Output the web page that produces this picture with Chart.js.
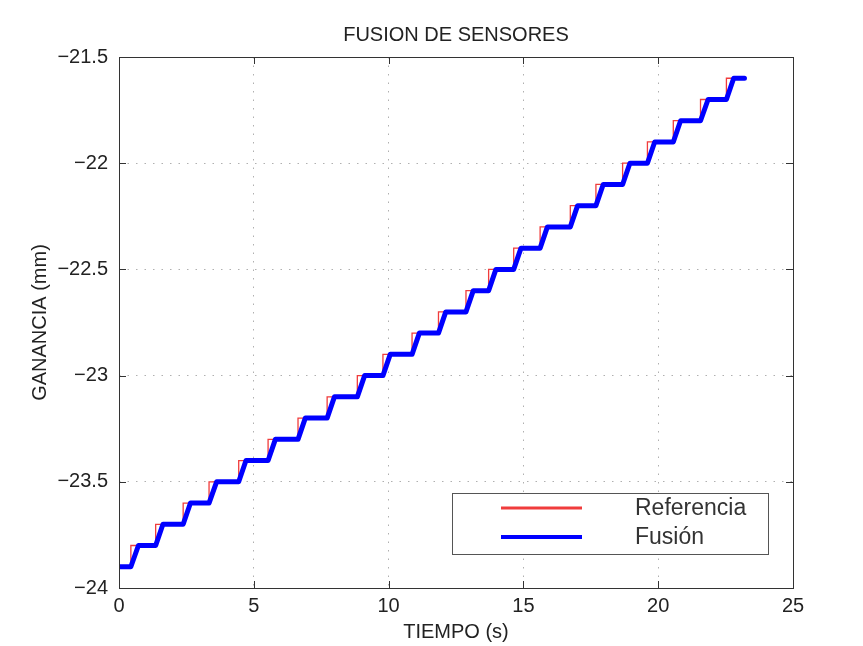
<!DOCTYPE html>
<html>
<head>
<meta charset="utf-8">
<script src="https://cdn.jsdelivr.net/npm/chart.js@4.4.1/dist/chart.umd.min.js"></script>
<style>
  body { margin: 0; background: #fff; }
</style>
</head>
<body>
<canvas id="myChart" width="863" height="646"></canvas>
<script>
// niveles de la referencia (mm)
const niveles = [-23.9, -23.8, -23.7, -23.6, -23.5, -23.4, -23.3, -23.2, -23.1, -23.0, -22.9, -22.8,
    -22.7, -22.6, -22.5, -22.4, -22.3, -22.2, -22.1, -22.0, -21.9, -21.8, -21.7, -21.6];
// instantes de cada escalon (s)
const tiemposEscalon = [0.44, 1.36, 2.38, 3.34, 4.44, 5.53, 6.64, 7.72, 8.84, 9.79, 10.87, 11.85,
    12.87, 13.71, 14.64, 15.62, 16.74, 17.69, 18.68, 19.60, 20.56, 21.57, 22.53];
// instantes en que la fusion alcanza el nuevo nivel (s)
const tiemposFusion = [0.72, 1.63, 2.65, 3.62, 4.71, 5.80, 6.91, 7.99, 9.11, 10.06, 11.14, 12.12,
    13.14, 13.98, 14.91, 15.89, 17.01, 17.96, 18.95, 19.87, 20.83, 21.85, 22.80];
const tFinal = 23.2;
const xTicks = [0, 5, 10, 15, 20, 25];
const yTicks = [-24, -23.5, -23, -22.5, -22, -21.5];
const titulo = 'FUSION DE SENSORES';

const FONT = '"Liberation Sans", Arial, Helvetica, sans-serif';
const menos = v => String(v).replace('-', '\u2212');

// referencia: escalones
const refData = [{ x: 0, y: niveles[0] }];
tiemposEscalon.forEach((t, i) => refData.push({ x: t, y: niveles[i + 1] }));
refData.push({ x: tFinal, y: niveles[niveles.length - 1] });

// fusion: rampa corta tras cada escalon
const fusData = [{ x: 0, y: niveles[0] }];
tiemposEscalon.forEach((t, i) => {
    fusData.push({ x: t, y: niveles[i] });
    fusData.push({ x: tiemposFusion[i], y: niveles[i + 1] });
});
fusData.push({ x: tFinal, y: niveles[niveles.length - 1] });

// marco, marcas interiores, titulo y leyenda al estilo matlab
const marcoMatlab = {
    id: 'marcoMatlab',
    afterDatasetsDraw(chart) {
        const { ctx, chartArea: a, scales } = chart;
        ctx.save();
        ctx.strokeStyle = '#333';
        ctx.lineWidth = 1;
        ctx.strokeRect(Math.round(a.left) + 0.5, Math.round(a.top) + 0.5,
            Math.round(a.right - a.left), Math.round(a.bottom - a.top));
        ctx.beginPath();
        xTicks.forEach(v => {
            const px = Math.round(scales.x.getPixelForValue(v)) + 0.5;
            ctx.moveTo(px, a.bottom); ctx.lineTo(px, a.bottom - 7);
            ctx.moveTo(px, a.top); ctx.lineTo(px, a.top + 7);
        });
        yTicks.forEach(v => {
            const py = Math.round(scales.y.getPixelForValue(v)) + 0.5;
            ctx.moveTo(a.left, py); ctx.lineTo(a.left + 7, py);
            ctx.moveTo(a.right, py); ctx.lineTo(a.right - 7, py);
        });
        ctx.stroke();

        // titulo centrado sobre el area del grafico
        ctx.fillStyle = '#222';
        ctx.font = '20px ' + FONT;
        ctx.textAlign = 'center';
        ctx.textBaseline = 'middle';
        ctx.fillText(titulo, (a.left + a.right) / 2, 35);

        // leyenda
        const lx = 452, ly = 493, lw = 316, lh = 61;
        ctx.fillStyle = '#fff';
        ctx.fillRect(lx, ly, lw, lh);
        ctx.strokeStyle = '#555';
        ctx.lineWidth = 1;
        ctx.strokeRect(lx + 0.5, ly + 0.5, lw, lh);
        ctx.font = '23px ' + FONT;
        ctx.textAlign = 'left';
        ctx.fillStyle = '#333';
        chart.data.datasets.forEach((ds, i) => {
            const y = ly + 15 + i * 29;
            ctx.strokeStyle = ds.borderColor;
            ctx.lineWidth = i === 0 ? 3 : 4;
            ctx.beginPath();
            ctx.moveTo(501, y); ctx.lineTo(582, y);
            ctx.stroke();
            ctx.fillText(ds.label, 635, y + 1);
        });
        ctx.restore();
    }
};

const ctx = document.getElementById('myChart');

new Chart(ctx, {
    type: 'line',
    data: {
        datasets: [{
            label: 'Referencia',
            data: refData,
            borderColor: 'rgb(240, 60, 60)',
            borderWidth: 1.3,
            stepped: true,
            pointRadius: 0,
            order: 2
        }, {
            label: 'Fusión',
            data: fusData,
            borderColor: '#0000ff',
            borderWidth: 5,
            borderCapStyle: 'round',
            borderJoinStyle: 'round',
            pointRadius: 0,
            tension: 0,
            order: 1
        }]
    },
    options: {
        responsive: false,
        animation: false,
        layout: { padding: { left: 0, right: 70, top: 57, bottom: 0 } },
        plugins: {
            legend: { display: false },
            tooltip: { enabled: false },
            title: { display: false }
        },
        scales: {
            x: {
                type: 'linear',
                min: 0,
                max: 25,
                afterBuildTicks: s => { s.ticks = xTicks.map(v => ({ value: v })); },
                afterFit: s => { s.height = 58; },
                ticks: { color: '#222', font: { family: FONT, size: 20 }, padding: 6, callback: v => menos(v) },
                grid: { color: '#b0b0b0', lineWidth: 1, drawTicks: false },
                border: { display: false, dash: [1.5, 7] },
                title: {
                    display: true, text: 'TIEMPO (s)', color: '#222',
                    font: { family: FONT, size: 20 }, padding: { top: 0, bottom: 2 }
                }
            },
            y: {
                type: 'linear',
                min: -24,
                max: -21.5,
                afterBuildTicks: s => { s.ticks = yTicks.map(v => ({ value: v })); },
                afterFit: s => { s.width = 119; },
                ticks: { color: '#222', font: { family: FONT, size: 20 }, padding: 11, callback: v => menos(v) },
                grid: { color: '#b0b0b0', lineWidth: 1, drawTicks: false },
                border: { display: false, dash: [1.5, 7] },
                title: {
                    display: true, text: 'GANANCIA (mm)', color: '#222',
                    font: { family: FONT, size: 20 }, padding: { top: 28, bottom: 0 }
                }
            }
        }
    },
    plugins: [marcoMatlab]
});
</script>
</body>
</html>
